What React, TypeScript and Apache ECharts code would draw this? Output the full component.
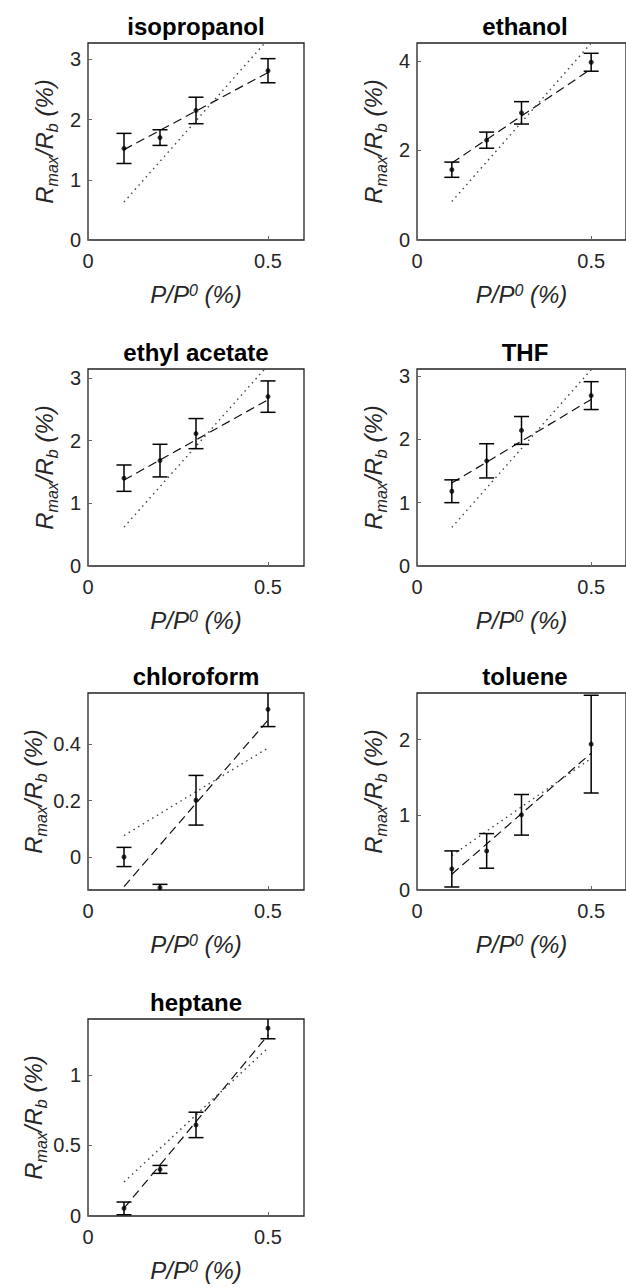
import React, { useEffect, useRef } from "react";
import * as echarts from "echarts";

// ---------- data ----------
const X_VALUES = [0.1, 0.2, 0.3, 0.5];
const FIT_X = [0.1, 0.5];
const X_TICKS = [0, 0.5];

const TITLES = ["isopropanol", "ethanol", "ethyl acetate", "THF", "chloroform", "toluene", "heptane"];

const isoMean = [1.52, 1.7, 2.15, 2.81];
const isoErr = [0.25, 0.13, 0.22, 0.2];
const isoFit = [1.5, 2.78];
const isoRef = [0.63, 3.33];
const isoTicks = [0, 1, 2, 3];

const ethMean = [1.57, 2.23, 2.84, 3.97];
const ethErr = [0.17, 0.18, 0.25, 0.2];
const ethFit = [1.72, 3.82];
const ethRef = [0.86, 4.4];
const ethTicks = [0, 2, 4];

const eaMean = [1.4, 1.68, 2.11, 2.7];
const eaErr = [0.21, 0.26, 0.24, 0.25];
const eaFit = [1.37, 2.65];
const eaRef = [0.62, 3.2];
const eaTicks = [0, 1, 2, 3];

const thfMean = [1.18, 1.66, 2.14, 2.69];
const thfErr = [0.18, 0.27, 0.22, 0.22];
const thfFit = [1.31, 2.63];
const thfRef = [0.61, 3.1];
const thfTicks = [0, 1, 2, 3];

const chlMean = [0.0, -0.109, 0.201, 0.523];
const chlErr = [0.034, 0.012, 0.088, 0.061];
const chlFit = [-0.105, 0.485];
const chlRef = [0.076, 0.386];
const chlTicks = [0, 0.2, 0.4];

const tolMean = [0.28, 0.52, 1.0, 1.94];
const tolErr = [0.24, 0.23, 0.27, 0.65];
const tolFit = [0.21, 1.82];
const tolRef = [0.46, 1.75];
const tolTicks = [0, 1, 2];

const hepMean = [0.054, 0.33, 0.645, 1.33];
const hepErr = [0.045, 0.028, 0.09, 0.075];
const hepFit = [0.055, 1.28];
const hepRef = [0.24, 1.19];
const hepTicks = [0, 0.5, 1];

const Y_RANGES = [
  [0, 3.27],
  [0, 4.4],
  [0, 3.14],
  [0, 3.11],
  [-0.117, 0.581],
  [0, 2.62],
  [0, 1.395],
];

const PANELS = [
  { mean: isoMean, err: isoErr, fit: isoFit, ref: isoRef, ticks: isoTicks },
  { mean: ethMean, err: ethErr, fit: ethFit, ref: ethRef, ticks: ethTicks },
  { mean: eaMean, err: eaErr, fit: eaFit, ref: eaRef, ticks: eaTicks },
  { mean: thfMean, err: thfErr, fit: thfFit, ref: thfRef, ticks: thfTicks },
  { mean: chlMean, err: chlErr, fit: chlFit, ref: chlRef, ticks: chlTicks },
  { mean: tolMean, err: tolErr, fit: tolFit, ref: tolRef, ticks: tolTicks },
  { mean: hepMean, err: hepErr, fit: hepFit, ref: hepRef, ticks: hepTicks },
];

// ---------- layout / style ----------
const FONT = '"Liberation Sans", Arial, Helvetica, sans-serif';
const TEXT = "#262626";
const COL_LEFT = [88, 417];
const ROW_TOP = [43, 369, 693, 1019];
const GRID_W = 216;
const GRID_H = 197;

const X_NAME = "{i|P/P}{sup|0}{i| (%)}";
const Y_NAME = "{i|R}{sub|max}{i|/R}{sub|b}{i| (%)}";

const nameStyle = {
  fontFamily: FONT,
  fontSize: 24,
  color: TEXT,
  rich: {
    i: { fontFamily: FONT, fontSize: 24, fontStyle: "italic", color: TEXT, lineHeight: 28, verticalAlign: "top" },
    sup: { fontFamily: FONT, fontSize: 16, fontStyle: "italic", color: TEXT, lineHeight: 16, verticalAlign: "top" },
    sub: {
      fontFamily: FONT,
      fontSize: 16,
      fontStyle: "italic",
      color: TEXT,
      lineHeight: 16,
      verticalAlign: "bottom",
      padding: [17, 0, 0, 0],
    },
  },
};

function buildOption() {
  const grid: any[] = [];
  const xAxis: any[] = [];
  const yAxis: any[] = [];
  const series: any[] = [];
  const graphic: any[] = [];

  PANELS.forEach((p, i) => {
    const col = i % 2;
    const row = Math.floor(i / 2);
    const left = COL_LEFT[col];
    const top = ROW_TOP[row];
    grid.push({
      left,
      top,
      width: GRID_W,
      height: GRID_H,
      show: true,
      borderColor: "#222",
      borderWidth: 1.3,
      backgroundColor: "transparent",
    });
    xAxis.push({
      gridIndex: i,
      type: "value",
      min: 0,
      max: 0.6,
      axisLine: { show: false, onZero: false },
      axisTick: { show: true, inside: true, length: 4, customValues: X_TICKS, lineStyle: { color: "#666" } },
      axisLabel: { customValues: X_TICKS, fontFamily: FONT, fontSize: 20, color: TEXT, margin: 11 },
      splitLine: { show: false },
      name: X_NAME,
      nameLocation: "middle",
      nameGap: 42,
      nameTextStyle: nameStyle,
    });
    yAxis.push({
      gridIndex: i,
      type: "value",
      min: Y_RANGES[i][0],
      max: Y_RANGES[i][1],
      axisLine: { show: false, onZero: false },
      axisTick: { show: true, inside: true, length: 4, customValues: p.ticks, lineStyle: { color: "#666" } },
      axisLabel: { customValues: p.ticks, fontFamily: FONT, fontSize: 20, color: TEXT, margin: 7 },
      splitLine: { show: false },
      name: Y_NAME,
      nameLocation: "middle",
      nameGap: 28,
      nameTextStyle: nameStyle,
    });

    series.push({
      type: "custom",
      xAxisIndex: i,
      yAxisIndex: i,
      clip: true,
      z: 3,
      data: X_VALUES.map((x, k) => [x, p.mean[k] - p.err[k], p.mean[k] + p.err[k]]),
      encode: { x: 0, y: [1, 2] },
      renderItem: (params: any, api: any) => {
        const x = api.value(0);
        const lo = api.coord([x, api.value(1)]);
        const hi = api.coord([x, api.value(2)]);
        const w = 7.5;
        const style = { stroke: "#000", lineWidth: 1.5 };
        return {
          type: "group",
          children: [
            { type: "line", shape: { x1: lo[0], y1: lo[1], x2: hi[0], y2: hi[1] }, style },
            { type: "line", shape: { x1: lo[0] - w, y1: lo[1], x2: lo[0] + w, y2: lo[1] }, style },
            { type: "line", shape: { x1: hi[0] - w, y1: hi[1], x2: hi[0] + w, y2: hi[1] }, style },
          ],
        };
      },
    });
    series.push({
      type: "line",
      xAxisIndex: i,
      yAxisIndex: i,
      data: FIT_X.map((x, k) => [x, p.fit[k]]),
      showSymbol: false,
      clip: true,
      z: 2,
      lineStyle: { color: "#111", width: 1.2, type: [9, 5] },
    });
    series.push({
      type: "line",
      xAxisIndex: i,
      yAxisIndex: i,
      data: FIT_X.map((x, k) => [x, p.ref[k]]),
      showSymbol: false,
      clip: true,
      z: 2,
      lineStyle: { color: "#444", width: 1.4, type: [1.5, 4] },
    });
    series.push({
      type: "scatter",
      xAxisIndex: i,
      yAxisIndex: i,
      data: X_VALUES.map((x, k) => [x, p.mean[k]]),
      symbol: "circle",
      symbolSize: 5,
      z: 4,
      itemStyle: { color: "#000" },
    });

    graphic.push({
      type: "text",
      x: left + GRID_W / 2,
      y: top - 17,
      style: {
        text: TITLES[i],
        fontFamily: FONT,
        fontSize: 24,
        fontWeight: "bold",
        fill: "#000",
        align: "center",
        verticalAlign: "middle",
      },
    });
  });

  return { animation: false, grid, xAxis, yAxis, series, graphic };
}

export default function App() {
  const ref = useRef<HTMLDivElement>(null);
  useEffect(() => {
    if (!ref.current) return;
    const chart = echarts.init(ref.current, undefined, { renderer: "svg" });
    chart.setOption(buildOption() as any);
    return () => chart.dispose();
  }, []);
  return (
    <div
      ref={ref}
      style={{ position: "absolute", left: 0, top: 0, width: 626, height: 1288, background: "#fff", overflow: "hidden" }}
    />
  );
}
